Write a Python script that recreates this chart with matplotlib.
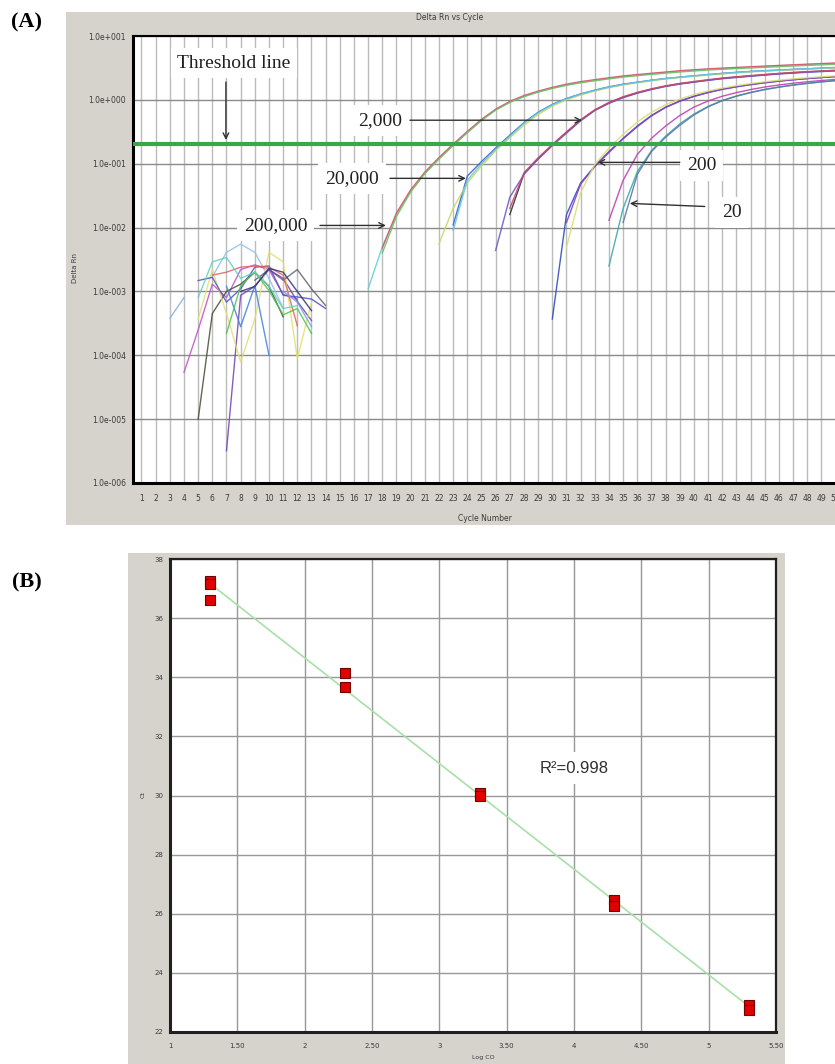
import numpy as np
import matplotlib
matplotlib.use('Agg')
import matplotlib.pyplot as plt
from matplotlib.patches import Rectangle

# ---------------- data: panel A (Delta Rn vs Cycle) ----------------
cycle_ticks = list(range(1, 51))
decade_ticks = [1e-6, 1e-5, 1e-4, 1e-3, 1e-2, 1e-1, 1e0, 1e1]
decade_labels = ["1.0e-006", "1.0e-005", "1.0e-004", "1.0e-003",
                 "1.0e-002", "1.0e-001", "1.0e+000", "1.0e+001"]
threshold = 0.2

# amplification curves (start cycle, values per cycle)
g1_cyan = (17, [0.0011, 0.0050, 0.0160, 0.037, 0.071, 0.121, 0.197, 0.312, 0.485, 0.700, 0.925, 1.14, 1.34,
                1.53, 1.72, 1.89, 2.03, 2.18, 2.32, 2.44, 2.56, 2.68, 2.80, 2.91, 3.01, 3.09, 3.17, 3.25,
                3.33, 3.41, 3.49, 3.57, 3.65, 3.73])
g1_red = (18, [0.0048, 0.0170, 0.039, 0.074, 0.125, 0.203, 0.320, 0.495, 0.715, 0.945, 1.17, 1.37, 1.57,
               1.76, 1.93, 2.07, 2.22, 2.37, 2.49, 2.61, 2.73, 2.86, 2.96, 3.06, 3.14, 3.22, 3.30, 3.38,
               3.46, 3.54, 3.62, 3.70, 3.78])
g1_green = (18, [0.0040, 0.0150, 0.036, 0.070, 0.118, 0.192, 0.305, 0.475, 0.690, 0.910, 1.12, 1.32, 1.51,
                 1.69, 1.85, 1.99, 2.13, 2.27, 2.39, 2.50, 2.62, 2.73, 2.83, 2.93, 3.01, 3.09, 3.16, 3.23,
                 3.31, 3.39, 3.46, 3.53, 3.60])
g2_blue = (23, [0.011, 0.064, 0.108, 0.176, 0.28, 0.44, 0.64, 0.85, 1.05, 1.24, 1.42, 1.60, 1.76, 1.89,
                2.03, 2.16, 2.27, 2.38, 2.49, 2.60, 2.70, 2.79, 2.86, 2.93, 3.00, 3.07, 3.14, 3.21])
g2_yellow = (22, [0.0056, 0.020, 0.050, 0.092, 0.160, 0.255, 0.40, 0.59, 0.80, 1.00, 1.19, 1.37, 1.55,
                  1.71, 1.85, 1.99, 2.12, 2.23, 2.34, 2.45, 2.55, 2.65, 2.74, 2.82, 2.89, 2.96, 3.03,
                  3.10, 3.17])
g2_cyan = (23, [0.0090, 0.055, 0.100, 0.168, 0.27, 0.43, 0.63, 0.84, 1.04, 1.23, 1.41, 1.58, 1.74, 1.88,
                2.02, 2.15, 2.26, 2.37, 2.48, 2.58, 2.68, 2.77, 2.85, 2.92, 2.99, 3.06, 3.13, 3.20])
g3_black = (27, [0.016, 0.070, 0.120, 0.196, 0.31, 0.48, 0.69, 0.90, 1.10, 1.29, 1.47, 1.64, 1.79, 1.91,
                 2.04, 2.17, 2.27, 2.37, 2.47, 2.57, 2.66, 2.74, 2.81, 2.88])
g3_purple = (26, [0.0044, 0.030, 0.068, 0.118, 0.192, 0.30, 0.47, 0.68, 0.88, 1.08, 1.27, 1.45, 1.62,
                  1.76, 1.89, 2.02, 2.14, 2.24, 2.34, 2.44, 2.54, 2.62, 2.70, 2.77, 2.84])
g3_red = (27, [0.020, 0.072, 0.124, 0.200, 0.315, 0.49, 0.70, 0.91, 1.12, 1.31, 1.49, 1.66, 1.81, 1.94,
               2.07, 2.20, 2.30, 2.40, 2.50, 2.60, 2.69, 2.77, 2.84, 2.91])
g4_blue = (30, [0.00037, 0.016, 0.050, 0.092, 0.155, 0.25, 0.39, 0.57, 0.77, 0.96, 1.14, 1.31, 1.47,
                1.61, 1.74, 1.86, 1.97, 2.07, 2.16, 2.24, 2.32])
g4_purple = (31, [0.012, 0.048, 0.090, 0.150, 0.245, 0.38, 0.56, 0.76, 0.95, 1.13, 1.30, 1.46, 1.60,
                  1.73, 1.85, 1.96, 2.06, 2.15, 2.23, 2.31])
g4_yellow = (31, [0.0049, 0.035, 0.098, 0.175, 0.29, 0.45, 0.64, 0.84, 1.03, 1.21, 1.38, 1.53, 1.67,
                  1.80, 1.92, 2.03, 2.13, 2.22, 2.30, 2.38])
g5_magenta = (34, [0.013, 0.055, 0.14, 0.25, 0.39, 0.57, 0.77, 0.96, 1.14, 1.30, 1.45, 1.59, 1.71,
                   1.82, 1.92, 2.01, 2.09])
g5_teal = (34, [0.0025, 0.020, 0.075, 0.16, 0.27, 0.42, 0.60, 0.79, 0.98, 1.15, 1.31, 1.46, 1.59,
                1.71, 1.82, 1.92, 2.01])
g5_grayblue = (35, [0.012, 0.068, 0.155, 0.26, 0.40, 0.58, 0.78, 0.97, 1.14, 1.30, 1.45, 1.58, 1.70,
                    1.81, 1.91, 2.00])

amp_curves = [g1_cyan, g1_red, g1_green, g2_blue, g2_yellow, g2_cyan, g3_black, g3_purple, g3_red,
              g4_blue, g4_purple, g4_yellow, g5_magenta, g5_teal, g5_grayblue]
amp_colors = ['#5fd0d8', '#e05070', '#70c060', '#4060d0', '#c8d860', '#60c8e0', '#303040', '#6a5ac8',
              '#d04868', '#3050c0', '#8a40c0', '#d8e070', '#c040b0', '#40a8a8', '#5a78a8']

# baseline noise curves (start cycle, values)
n1 = (3, [3.8e-4, 8.0e-4])
n2 = (6, [1.7e-3, 4.1e-3, 5.5e-3, 4.1e-3, 1.6e-3, 5.5e-4])
n3 = (4, [5.4e-5, 2.5e-4, 1.3e-3, 8.0e-4, 2.2e-3, 2.6e-3, 2.2e-3, 9.0e-4, 7.6e-4])
n4 = (5, [1.0e-5, 4.5e-4, 1.0e-3, 1.3e-3, 2.0e-3, 1.2e-3, 4.0e-4])
n5 = (7, [3.2e-6, 8.7e-4, 1.2e-3, 2.2e-3, 1.6e-3, 7.0e-4, 3.5e-4])
n6 = (5, [3.7e-4, 2.2e-3, 4.5e-4, 7.9e-5, 3.7e-4, 4.1e-3, 2.9e-3, 8.9e-5, 6.8e-4])
n7 = (9, [1.5e-3, 2.2e-3, 1.5e-3, 2.2e-3, 1.1e-3, 6.0e-4])
n8 = (5, [1.48e-3, 1.66e-3, 6.8e-4, 1.1e-3, 2.4e-3, 2.5e-3, 8.7e-4, 8.2e-4, 7.6e-4, 5.4e-4])
n9 = (7, [1.2e-3, 2.8e-4, 1.23e-3, 1.0e-4])
n10 = (7, [2.2e-4, 1.23e-3, 2.0e-3, 1.03e-3, 4.3e-4, 5.4e-4, 2.2e-4])
n11 = (6, [1.8e-3, 2.0e-3, 2.4e-3, 2.5e-3, 2.4e-3, 1.8e-3, 2.9e-4])
n12 = (5, [8.0e-4, 2.9e-3, 3.4e-3, 1.6e-3, 2.0e-3, 1.2e-3, 5.4e-4, 6.0e-4])
n13 = (11, [1.0e-3, 6.8e-4, 2.8e-4])
n14 = (8, [1.0e-3, 1.2e-3, 2.3e-3, 2.0e-3, 1.0e-3, 5.0e-4])
noise_curves = [n1, n2, n3, n4, n5, n6, n7, n8, n9, n10, n11, n12, n13, n14]
noise_colors = ['#80b0e0', '#90c0f0', '#c050c8', '#405030', '#7040b0', '#e0e070', '#606070',
                '#5050c0', '#4080e0', '#50c050', '#e06060', '#60d0c0', '#70a0e0', '#303070']

# ---------------- data: panel B (standard curve) ----------------
log_co = [1.3, 1.3, 1.3, 2.3, 2.3, 3.3, 3.3, 4.3, 4.3, 5.3, 5.3]
ct_vals = [37.25, 37.15, 36.6, 34.14, 33.67, 30.1, 30.0, 26.45, 26.25, 22.9, 22.75]
b_xticks = [1, 1.5, 2, 2.5, 3, 3.5, 4, 4.5, 5, 5.5]
b_xlabels = ['1', '1.50', '2', '2.50', '3', '3.50', '4', '4.50', '5', '5.50']
b_yticks = [22, 24, 26, 28, 30, 32, 34, 36, 38]
r2_text = 'R²=0.998'

# ---------------- figure ----------------
W, H = 835, 1064
fig = plt.figure(figsize=(W / 100, H / 100), dpi=100)
fig.patch.set_facecolor('white')


def fr(x0, y0, x1, y1):
    return [x0 / W, 1 - y1 / H, (x1 - x0) / W, (y1 - y0) / H]


PANEL = '#d6d3cc'
fig.add_artist(Rectangle((66 / W, 1 - 525 / H), (W + 10 - 66) / W, (525 - 12) / H,
                         transform=fig.transFigure, facecolor=PANEL, edgecolor='none', zorder=0))
fig.add_artist(Rectangle((128 / W, 1 - 1064 / H), (785 - 128) / W, (1064 - 553) / H,
                         transform=fig.transFigure, facecolor=PANEL, edgecolor='none', zorder=0))

serif = 'Liberation Serif'
TXT = '#3a3a3a'

# ---- panel A ----
axA = fig.add_axes(fr(133, 36, 842, 483))
axA.set_facecolor('white')
axA.set_yscale('log')
axA.set_xlim(0.4, 50.45)
axA.set_ylim(1e-6, 10)
axA.set_xticks(cycle_ticks)
axA.set_xticklabels([str(c) for c in cycle_ticks])
axA.set_yticks(decade_ticks)
axA.set_yticklabels(decade_labels)
axA.yaxis.set_minor_locator(matplotlib.ticker.NullLocator())
axA.tick_params(axis='both', length=0, labelsize=5.5, colors=TXT)
axA.tick_params(axis='x', pad=8)
axA.tick_params(axis='y', pad=5)
axA.grid(axis='x', color='#bcbcbc', lw=1.0, zorder=0)
axA.grid(axis='y', color='#8a8a8a', lw=1.0, zorder=0)
axA.set_axisbelow(True)
for s in ['left', 'bottom']:
    axA.spines[s].set_linewidth(2.2)
    axA.spines[s].set_color('black')
axA.spines['top'].set_linewidth(1.5)
axA.spines['right'].set_visible(False)

for (start, vals), col in zip(noise_curves, noise_colors):
    cyc = np.arange(start, start + len(vals))
    axA.plot(cyc, vals, color=col, lw=1.0, alpha=0.85, zorder=2)
for (start, vals), col in zip(amp_curves, amp_colors):
    cyc = np.arange(start, start + len(vals))
    axA.plot(cyc, vals, color=col, lw=1.0, alpha=0.9, zorder=2)

axA.axhline(threshold, color='#3aa84a', lw=3, zorder=3)

box = dict(boxstyle='square,pad=0.35', fc='white', ec='none')
arrow = dict(arrowstyle='->', color='#303030', lw=1.0, shrinkA=0, shrinkB=0)
labels_A = [('Threshold line', 7.53, 3.77), ('2,000', 17.83, 0.48), ('20,000', 15.86, 0.059),
            ('200,000', 10.49, 0.0108), ('200', 40.55, 0.094), ('20', 42.67, 0.0173)]
arrows_A = [((6.96, 1.9), (6.96, 0.235)), ((19.95, 0.48), (32.1, 0.48)),
            ((18.54, 0.059), (23.9, 0.059)), ((13.6, 0.0108), (18.25, 0.0108)),
            ((39.0, 0.105), (33.2, 0.105)), ((40.76, 0.0214), (35.47, 0.0239))]
for txt, x, y in labels_A:
    axA.text(x, y, txt, ha='center', va='center', fontsize=14, family=serif,
             color='#202020', bbox=box, zorder=4)
for (x0, y0), (x1, y1) in arrows_A:
    axA.annotate('', xy=(x1, y1), xytext=(x0, y0), arrowprops=arrow, zorder=5)

fig.text(450 / W, 1 - 18 / H, 'Delta Rn vs Cycle', ha='center', va='center', fontsize=5.5, color=TXT)
fig.text(485 / W, 1 - 519 / H, 'Cycle Number', ha='center', va='center', fontsize=5.5, color=TXT)
fig.text(75 / W, 1 - 268 / H, 'Delta Rn', ha='center', va='center', fontsize=5, color=TXT, rotation=90)
fig.text(27 / W, 1 - 22 / H, '(A)', ha='center', va='center', fontsize=16, family=serif, weight='bold')
fig.text(27 / W, 1 - 582 / H, '(B)', ha='center', va='center', fontsize=16, family=serif, weight='bold')

# ---- panel B ----
axB = fig.add_axes(fr(170, 559, 776, 1032))
axB.set_facecolor('white')
axB.set_xlim(1, 5.5)
axB.set_ylim(22, 38)
axB.set_xticks(b_xticks)
axB.set_xticklabels(b_xlabels)
axB.set_yticks(b_yticks)
axB.tick_params(axis='both', length=0, labelsize=5, colors=TXT)
axB.tick_params(axis='x', pad=8)
axB.tick_params(axis='y', pad=5)
axB.grid(True, color='#989898', lw=1.0)
axB.set_axisbelow(True)
for s in axB.spines.values():
    s.set_linewidth(1.6)
    s.set_color('#202020')
axB.spines['left'].set_linewidth(2.2)
axB.spines['bottom'].set_linewidth(2.2)

coef = np.polyfit(log_co, ct_vals, 1)
fit_x = np.array([min(log_co), max(log_co)])
axB.plot(fit_x, np.polyval(coef, fit_x), color='#a8e0a8', lw=1.2, zorder=2)
axB.plot(log_co, ct_vals, 's', ms=6.5, mfc='#e00000', mec='#700000', mew=0.8, zorder=3)
axB.text(3.747, 30.93, r2_text, ha='left', va='center', fontsize=12, family='Liberation Sans',
         color='#303030', bbox=dict(boxstyle='square,pad=0.5', fc='white', ec='none'), zorder=4)

fig.text(483 / W, 1 - 1058 / H, 'Log CO', ha='center', va='center', fontsize=4.5, color=TXT)
fig.text(143 / W, 1 - 795 / H, 'Ct', ha='center', va='center', fontsize=4.5, color=TXT, rotation=90)

fig.savefig('out.png', dpi=100)
